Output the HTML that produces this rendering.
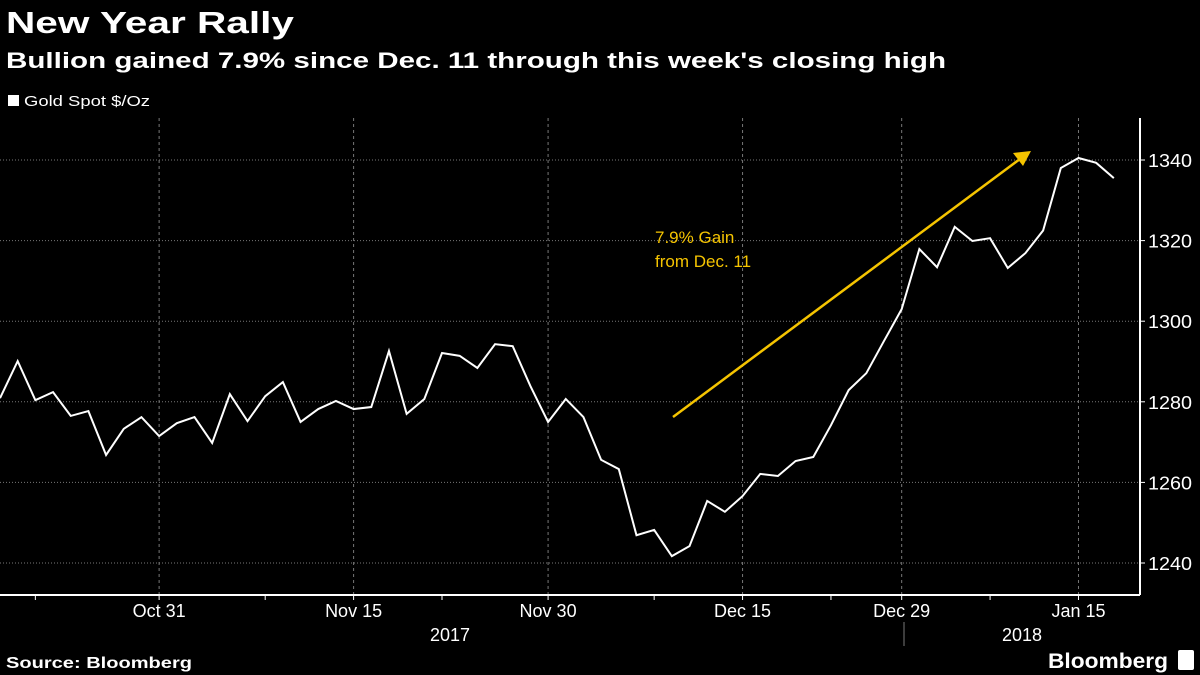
<!DOCTYPE html>
<html><head><meta charset="utf-8"><style>
html,body{margin:0;padding:0;background:#000;width:1200px;height:675px;overflow:hidden}
svg text{font-family:"Liberation Sans",sans-serif}
</style></head><body>
<svg id="chart" width="1200" height="675" xmlns="http://www.w3.org/2000/svg">
<rect width="1200" height="675" fill="#000"/>
<text x="6" y="33" fill="#fff" font-size="31" font-weight="bold" textLength="288" lengthAdjust="spacingAndGlyphs">New Year Rally</text>
<text x="6" y="68" fill="#fff" font-size="22" font-weight="bold" textLength="940" lengthAdjust="spacingAndGlyphs">Bullion gained 7.9% since Dec. 11 through this week's closing high</text>
<rect x="8" y="95" width="11" height="11" fill="#fff"/>
<text x="24" y="106" fill="#fff" font-size="15" textLength="126" lengthAdjust="spacingAndGlyphs">Gold Spot $/Oz</text>
<g id="grid"></g>
<g id="axes"></g>
<polyline id="line" fill="none" stroke="#fff" stroke-width="2"/>
<line x1="673" y1="417" x2="1020" y2="159" stroke="#f5c400" stroke-width="2.5"/>
<polygon points="1031,151 1013,153 1023,166" fill="#f5c400"/>
<text x="655" y="243" fill="#f5c400" font-size="17">7.9% Gain</text>
<text x="655" y="267" fill="#f5c400" font-size="17">from Dec. 11</text>
<text x="6" y="668" fill="#fff" font-size="16" font-weight="bold" textLength="186" lengthAdjust="spacingAndGlyphs">Source: Bloomberg</text>
<text x="1048" y="668" fill="#fff" font-size="21" font-weight="bold" textLength="120" lengthAdjust="spacingAndGlyphs">Bloomberg</text>
<rect x="1178" y="650" width="16" height="20" rx="2" fill="#fff"/>
</svg>
<script>
const values = [1280.9,1290.1,1280.4,1282.4,1276.5,1277.7,1266.8,1273.3,1276.2,1271.5,1274.7,1276.2,1269.8,1281.9,1275.2,1281.4,1284.9,1275.0,1278.2,1280.2,1278.2,1278.7,1292.6,1277.0,1280.7,1292.1,1291.4,1288.4,1294.3,1293.8,1283.9,1275.0,1280.7,1276.2,1265.6,1263.3,1246.9,1248.2,1241.7,1244.2,1255.4,1252.7,1256.6,1262.1,1261.6,1265.3,1266.3,1274.2,1282.9,1287.1,1295.1,1303.0,1317.9,1313.4,1323.4,1319.9,1320.6,1313.2,1316.9,1322.5,1338.0,1340.5,1339.3,1335.5];
const xTickIdx = [9,20,31,42,51,61];
const xTickLabels = ["Oct 31","Nov 15","Nov 30","Dec 15","Dec 29","Jan 15"];
const xMinorIdx = [2,15,25,37,47,56];
const yTicks = [1240,1260,1280,1300,1320,1340];
const years = ["2017","2018"];
const NS="http://www.w3.org/2000/svg";
const X = i => i*17.68;
const Y = v => 563 - (v-1240)*4.03;
function mk(tag, attrs, parent){const e=document.createElementNS(NS,tag);for(const k in attrs)e.setAttribute(k,attrs[k]);parent.appendChild(e);return e;}
const grid=document.getElementById('grid'), axes=document.getElementById('axes');
yTicks.forEach(v=>{
  const g=mk('line',{x1:0,x2:1140,y1:Y(v),y2:Y(v),stroke:'#777','stroke-dasharray':'1,2','stroke-width':1},grid);
  
  
  const t=mk('line',{x1:1140,x2:1145,y1:Y(v),y2:Y(v),stroke:'#fff'},axes);
  
  
  const l=mk('text',{x:1148,y:Y(v)+7,fill:'#fff','font-size':18,textLength:44,lengthAdjust:'spacingAndGlyphs'},axes);
  l.textContent=v;
  
  
});
xTickIdx.forEach((d,i)=>{
  const g=mk('line',{x1:X(d),x2:X(d),y1:118,y2:595,stroke:'#777','stroke-dasharray':'3,3','stroke-width':1},grid);
  
  
  const t=mk('line',{x1:X(d),x2:X(d),y1:595,y2:600,stroke:'#fff'},axes);
  
  
  const l=mk('text',{x:X(d),y:617,fill:'#fff','font-size':18,'text-anchor':'middle'},axes);
  l.textContent=xTickLabels[i];
  
  
});
xMinorIdx.forEach(d=>{
  const t=mk('line',{x1:X(d),x2:X(d),y1:595,y2:600,stroke:'#fff'},axes);
  
  
});
const xa=mk('line',{x1:0,x2:1140,y1:595,y2:595,stroke:'#fff','stroke-width':2},axes);


const ya=mk('line',{x1:1140,x2:1140,y1:118,y2:595,stroke:'#fff','stroke-width':2},axes);


const sep=mk('line',{x1:904,x2:904,y1:622,y2:646,stroke:'#777'},axes);


[[450,years[0]],[1022,years[1]]].forEach(([x,t])=>{
  const l=mk('text',{x:x,y:641,fill:'#fff','font-size':18,'text-anchor':'middle'},axes);
  l.textContent=t;
  
  
});
document.getElementById('line').setAttribute('points',values.map((v,i)=>X(i)+','+Y(v)).join(' '));
</script>
</body></html>
